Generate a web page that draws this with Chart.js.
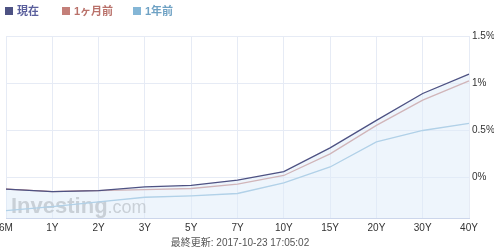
<!DOCTYPE html>
<html>
<head>
<meta charset="utf-8">
<script src="https://cdn.jsdelivr.net/npm/chart.js@4.4.0/dist/chart.umd.min.js"></script>
<style>
    body { margin: 0; background: #fff; }
    .wrap { position: relative; width: 494px; height: 250px; }
    .legend { position: absolute; left: 5px; top: 3px; font: bold 11px "Liberation Sans", "Noto Sans CJK JP", sans-serif; }
    .legend span { position: absolute; white-space: nowrap; top: 0; line-height: 16px; }
    .legend i { display: inline-block; width: 8px; height: 8px; margin-right: 4px; vertical-align: -0px; }
</style>
</head>
<body>
<div class="wrap">
    <canvas id="chartCanvas" width="494" height="250"></canvas>
    <div class="legend" id="legend"></div>
</div>
<script>
        const maturities = ['6M', '1Y', '2Y', '3Y', '5Y', '7Y', '10Y', '15Y', '20Y', '30Y', '40Y'];
        const seriesNames = ['現在', '1ヶ月前', '1年前'];
        const yieldNow = [-0.124, -0.15, -0.14, -0.10, -0.085, -0.028, 0.061, 0.314, 0.605, 0.89, 1.096];
        const yieldMonthAgo = [-0.124, -0.15, -0.14, -0.13, -0.117, -0.07, 0.021, 0.25, 0.552, 0.82, 1.025];
        const yieldYearAgo = [-0.352, -0.31, -0.26, -0.21, -0.195, -0.17, -0.057, 0.111, 0.378, 0.498, 0.573];
        const yTicks = [0, 0.5, 1, 1.5];
        const updatedText = '最終更新: 2017-10-23 17:05:02';

        const colors = ['#4e5283', '#c47f79', '#84b6d6'];
        const legendColors = ['#5a5f9c', '#b9716a', '#6fa2c4'];

        // legend (html)
        const legendX = [0, 57, 128];
        const legendEl = document.getElementById('legend');
        seriesNames.forEach((n, i) => {
            const s = document.createElement('span');
            s.style.left = legendX[i] + 'px';
            s.style.color = legendColors[i];
            s.innerHTML = '<i style="background:' + colors[i] + '"></i>' + n;
            legendEl.appendChild(s);
        });

        const extras = {
            id: 'extras',
            beforeDatasetsDraw(chart) {
                const ctx = chart.ctx;
                ctx.save();
                ctx.globalAlpha = 0.8;
                ctx.fillStyle = '#a3a3a3';
                ctx.textBaseline = 'alphabetic';
                ctx.font = 'bold 22px "Liberation Sans", sans-serif';
                ctx.fillText('Investing', 11, 213);
                const w = ctx.measureText('Investing').width;
                ctx.font = '18px "Liberation Sans", sans-serif';
                ctx.fillText('.com', 11 + w, 213);
                ctx.restore();
            },
            afterDraw(chart) {
                const ctx = chart.ctx;
                ctx.save();
                ctx.fillStyle = '#555';
                ctx.font = '10px "Liberation Sans", "Noto Sans CJK JP", sans-serif';
                ctx.textAlign = 'center';
                ctx.textBaseline = 'middle';
                ctx.fillText(updatedText, 240, 243);
                ctx.restore();
            }
        };

        const ctx = document.getElementById('chartCanvas').getContext('2d');
        const chart = new Chart(ctx, {
            type: 'line',
            data: {
                labels: maturities,
                datasets: [
                    { label: seriesNames[0], data: yieldNow, borderColor: colors[0], borderWidth: 1.3, pointRadius: 0, tension: 0,
                      fill: 'start', backgroundColor: 'rgba(222,236,250,0.5)' },
                    { label: seriesNames[1], data: yieldMonthAgo, borderColor: colors[1], borderWidth: 1.3, pointRadius: 0, tension: 0, fill: false },
                    { label: seriesNames[2], data: yieldYearAgo, borderColor: colors[2], borderWidth: 1.3, pointRadius: 0, tension: 0, fill: false }
                ]
            },
            options: {
                responsive: false,
                animation: false,
                layout: { padding: { left: 6, top: 36, right: 0, bottom: 0 } },
                plugins: {
                    legend: { display: false },
                    tooltip: { enabled: false }
                },
                scales: {
                    x: {
                        offset: false,
                        grid: { color: '#e6ebf5', drawTicks: false },
                        border: { color: '#ccd6eb' },
                        ticks: { color: '#333', font: { size: 10, family: '"Liberation Sans", sans-serif' }, padding: 4, autoSkip: false, maxRotation: 0 },
                        afterFit: function(axis) {
                            axis.height = 32;
                            axis.paddingLeft = 0;
                            axis.paddingRight = 0;
                        }
                    },
                    y: {
                        position: 'right',
                        min: -0.43,
                        max: 1.5,
                        grid: { color: '#e6ebf5', drawTicks: false },
                        border: { display: false },
                        ticks: {
                            color: '#333',
                            font: { size: 10, family: '"Liberation Sans", sans-serif' },
                            padding: 3,
                            callback: v => v + '%'
                        },
                        afterBuildTicks: function(axis) {
                            axis.ticks = yTicks.map(v => ({ value: v }));
                        },
                        afterFit: function(axis) { axis.width = 25; }
                    }
                }
            },
            plugins: [extras]
        });
</script>
</body>
</html>
